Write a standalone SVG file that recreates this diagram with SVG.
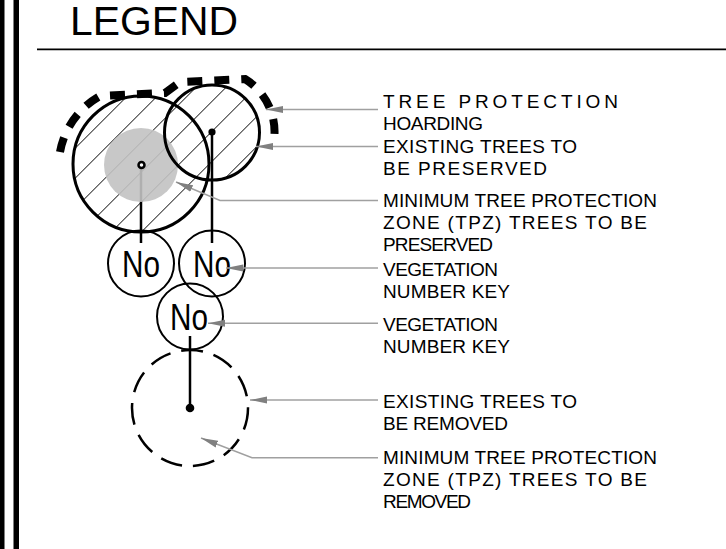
<svg xmlns="http://www.w3.org/2000/svg" width="726" height="549" viewBox="0 0 726 549">
<style>
.lbl{font-family:"Liberation Sans",Arial,sans-serif;font-size:19px;fill:#000}
.no{font-family:"Liberation Sans",Arial,sans-serif;font-size:37px;fill:#000}
.ldr{fill:none;stroke:#a0a0a0;stroke-width:1.5}
.thick{fill:none;stroke:#000;stroke-width:3}
.nocirc{fill:none;stroke:#000;stroke-width:2}
</style>
<defs>
<pattern id="hatch" patternUnits="userSpaceOnUse" width="30" height="30" x="13.4" y="0">
<path d="M0 30 L30 0 M-5 5 L5 -5 M25 35 L35 25" stroke="#000" stroke-width="1"/>
</pattern>
<clipPath id="treeclip">
<circle cx="141" cy="164" r="68"/>
<circle cx="212" cy="132.5" r="47.5"/>
</clipPath>
<marker id="arr" viewBox="0 0 17 8" refX="0" refY="4" markerWidth="17" markerHeight="8" markerUnits="userSpaceOnUse" orient="auto">
<path d="M0 4 L17 0.5 L17 7.5 Z" fill="#808080"/>
</marker>
</defs>
<rect width="726" height="549" fill="#fff"/>
<g id="frame">
<rect x="0" y="0" width="4.5" height="549" fill="#000"/>
<rect x="13.5" y="0" width="5.5" height="549" fill="#000"/>
<line x1="37" y1="49.3" x2="726" y2="49.3" stroke="#000" stroke-width="1.8"/>
</g>
<g id="title">
<text x="70" y="35" font-family="Liberation Sans, Arial, sans-serif" font-size="40" fill="#000" textLength="168" lengthAdjust="spacingAndGlyphs">LEGEND</text>
</g>
<g id="preserved-trees">
<rect x="60" y="80" width="220" height="160" fill="url(#hatch)" clip-path="url(#treeclip)"/>
<line x1="141" y1="164" x2="141" y2="243" stroke="#000" stroke-width="2.5"/>
<line x1="212" y1="132" x2="212" y2="243" stroke="#000" stroke-width="2.5"/>
<circle cx="141" cy="165" r="37" fill="#c2c2c2" fill-opacity="0.9"/>
<circle cx="141" cy="164" r="68" class="thick"/>
<circle cx="212" cy="132.5" r="47.5" class="thick"/>
<circle cx="141.5" cy="165" r="3" fill="#fff" stroke="#000" stroke-width="2.5"/>
<circle cx="212" cy="132" r="3.6" fill="#000"/>
</g>
<g id="hoarding">
<path d="M60 152 A80 80 0 0 1 100 96 L165 93 L180 82 L245 79 A62 62 0 0 1 274 140" fill="none" stroke="#000" stroke-width="8" stroke-dasharray="15 12"/>
</g>
<g id="no-left">
<circle cx="141" cy="263.5" r="33" class="nocirc"/>
<text x="122" y="277" class="no" textLength="38" lengthAdjust="spacingAndGlyphs">No</text>
</g>
<g id="no-middle">
<circle cx="212" cy="263.5" r="33" class="nocirc"/>
<text x="193" y="277" class="no" textLength="38" lengthAdjust="spacingAndGlyphs">No</text>
</g>
<g id="no-bottom">
<circle cx="190" cy="316.5" r="33" class="nocirc"/>
<text x="170" y="330" class="no" textLength="38" lengthAdjust="spacingAndGlyphs">No</text>
</g>
<g id="removed-tree">
<line x1="190" y1="336" x2="190" y2="408" stroke="#000" stroke-width="2.5"/>
<circle cx="190" cy="408" r="58" fill="none" stroke="#000" stroke-width="2.5" stroke-dasharray="22 11"/>
<circle cx="190" cy="408" r="4.3" fill="#000"/>
</g>
<g id="connectors">
<path class="ldr" marker-start="url(#arr)" d="M266 109.5 L378 109.5"/>
<path class="ldr" marker-start="url(#arr)" d="M256 146.5 L378 146.5"/>
<path class="ldr" marker-start="url(#arr)" d="M176 182 L220 200.5 L378 200.5"/>
<path class="ldr" marker-start="url(#arr)" d="M226 268 L378 268"/>
<path class="ldr" marker-start="url(#arr)" d="M208 323.3 L378 323.3"/>
<path class="ldr" marker-start="url(#arr)" d="M250 400 L378 400"/>
<path class="ldr" marker-start="url(#arr)" d="M201 438 L252 457.7 L378 457.7"/>
</g>
<g id="labels">
<text class="lbl" x="383" y="108" textLength="235" lengthAdjust="spacing">TREE PROTECTION</text>
<text class="lbl" x="383" y="130" textLength="100" lengthAdjust="spacing">HOARDING</text>
<text class="lbl" x="383" y="153" textLength="194" lengthAdjust="spacing">EXISTING TREES TO</text>
<text class="lbl" x="383" y="175" textLength="164" lengthAdjust="spacing">BE PRESERVED</text>
<text class="lbl" x="383" y="207" textLength="274" lengthAdjust="spacing">MINIMUM TREE PROTECTION</text>
<text class="lbl" x="383" y="229" textLength="264" lengthAdjust="spacing">ZONE (TPZ) TREES TO BE</text>
<text class="lbl" x="383" y="251" textLength="110" lengthAdjust="spacing">PRESERVED</text>
<text class="lbl" x="383" y="276" textLength="115" lengthAdjust="spacing">VEGETATION</text>
<text class="lbl" x="383" y="298" textLength="127" lengthAdjust="spacing">NUMBER KEY</text>
<text class="lbl" x="383" y="331" textLength="115" lengthAdjust="spacing">VEGETATION</text>
<text class="lbl" x="383" y="353" textLength="127" lengthAdjust="spacing">NUMBER KEY</text>
<text class="lbl" x="383" y="408" textLength="194" lengthAdjust="spacing">EXISTING TREES TO</text>
<text class="lbl" x="383" y="430" textLength="125" lengthAdjust="spacing">BE REMOVED</text>
<text class="lbl" x="383" y="464" textLength="274" lengthAdjust="spacing">MINIMUM TREE PROTECTION</text>
<text class="lbl" x="383" y="486" textLength="264" lengthAdjust="spacing">ZONE (TPZ) TREES TO BE</text>
<text class="lbl" x="383" y="508" textLength="88" lengthAdjust="spacing">REMOVED</text>
</g>
</svg>
